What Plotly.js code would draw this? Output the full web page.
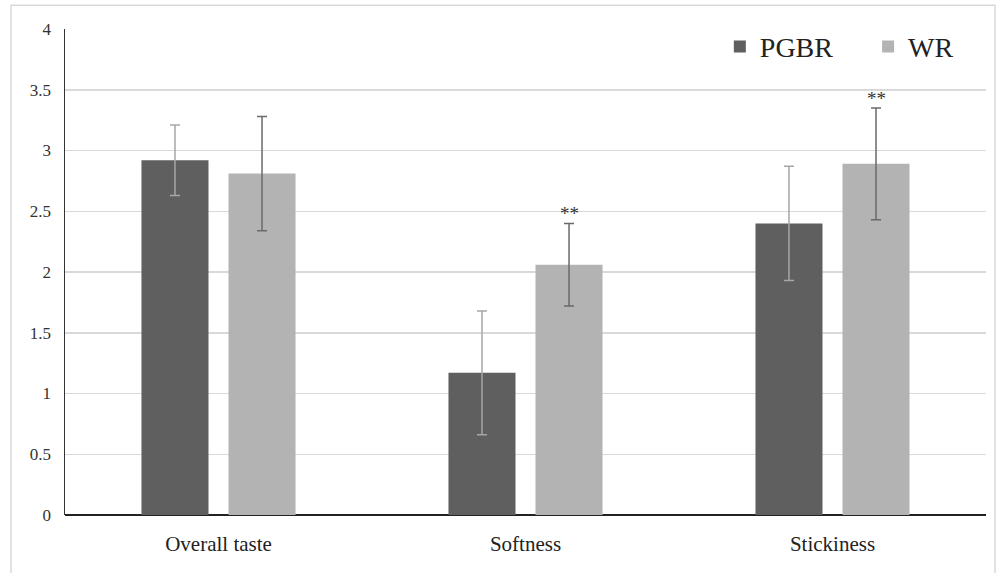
<!DOCTYPE html>
<html>
<head>
<meta charset="utf-8">
<script src="https://cdn.plot.ly/plotly-3.0.1.min.js"></script>
<style>
html,body{margin:0;padding:0;background:#fff;}
#chart{width:1000px;height:573px;}
</style>
</head>
<body>
<div id="chart"></div>
<script>
var categories = ["Overall taste", "Softness", "Stickiness"];
var seriesNames = ["PGBR", "WR"];
var pgbrValues = [2.92, 1.17, 2.40];
var pgbrErrors = [0.29, 0.51, 0.47];
var wrValues = [2.81, 2.06, 2.89];
var wrErrors = [0.47, 0.34, 0.46];
var wrSignificance = ["", "**", "**"];
var yTicks = [0, 0.5, 1, 1.5, 2, 2.5, 3, 3.5, 4];
var yTickLabels = ["0", "0.5", "1", "1.5", "2", "2.5", "3", "3.5", "4"];

var serif = "'Liberation Serif', 'Times New Roman', serif";

var traces = [
  {
    type: "bar", name: seriesNames[0], x: categories, y: pgbrValues,
    marker: {color: "#5f5f5f"}, legend: "legend",
    error_y: {type: "data", array: pgbrErrors, visible: true, color: "#a6a6a6", thickness: 1.5, width: 5}
  },
  {
    type: "bar", name: seriesNames[1], x: categories, y: wrValues,
    marker: {color: "#b3b3b3"}, legend: "legend2",
    error_y: {type: "data", array: wrErrors, visible: true, color: "#6a6a6a", thickness: 1.5, width: 5}
  }
];

var annotations = [];
for (var i = 0; i < categories.length; i++) {
  if (wrSignificance[i]) {
    annotations.push({
      x: categories[i], y: wrValues[i] + wrErrors[i], xref: "x", yref: "y",
      text: wrSignificance[i], showarrow: false, xshift: 43.5, yshift: -3,
      yanchor: "bottom", font: {family: serif, size: 19, color: "#333"}
    });
  }
}

var legendStyle = function (xpos) {
  return {
    orientation: "h", x: xpos, y: 1.015, xanchor: "left", yanchor: "top",
    font: {family: serif, size: 28, color: "#222"},
    itemwidth: 30, bgcolor: "rgba(0,0,0,0)"
  };
};

var layout = {
  width: 1000, height: 573,
  margin: {l: 65, r: 14, t: 29, b: 58},
  paper_bgcolor: "#fff", plot_bgcolor: "#fff",
  barmode: "group", bargap: 0.433, bargroupgap: 0.23,
  showlegend: true,
  legend: legendStyle(0.711),
  legend2: legendStyle(0.872),
  xaxis: {
    type: "category", showgrid: false, zeroline: false,
    showline: false, ticks: "", ticklabelstandoff: 14,
    tickfont: {family: serif, size: 21, color: "#222"}
  },
  yaxis: {
    range: [0, 4], tickvals: yTicks, ticktext: yTickLabels,
    showgrid: true, gridcolor: "#d9d9d9", gridwidth: 1.5,
    zeroline: true, zerolinecolor: "#222", zerolinewidth: 1.5,
    showline: true, linecolor: "#333", linewidth: 1.5,
    ticks: "", ticklabelstandoff: 9,
    tickfont: {family: serif, size: 17, color: "#333"}
  },
  annotations: annotations,
  shapes: [{
    type: "rect", xref: "paper", yref: "paper",
    x0: -0.0586, x1: 1.0098, y0: -0.13, y1: 1.049,
    line: {color: "#d9d9d9", width: 1.5}, fillcolor: "rgba(0,0,0,0)", layer: "below"
  }]
};

Plotly.newPlot("chart", traces, layout, {displayModeBar: false, staticPlot: true});
</script>
</body>
</html>
